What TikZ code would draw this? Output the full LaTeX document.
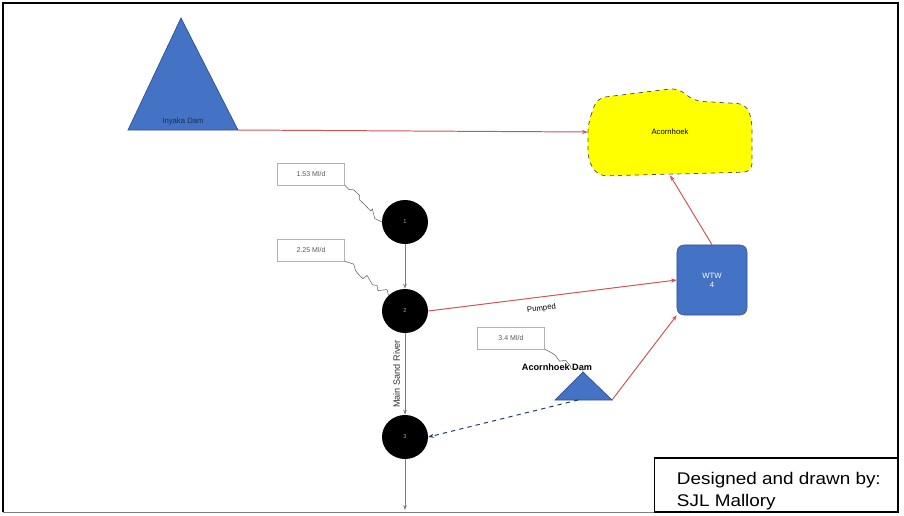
\documentclass[tikz,border=0pt]{standalone}
\usepackage{fontspec}
\setmainfont{Liberation Sans}
\usepackage{tikz}
\usepackage{xcolor}
\usetikzlibrary{arrows.meta}
\usetikzlibrary{decorations.pathmorphing, shapes.geometric}

\definecolor{damblue}{RGB}{68,114,196}
\definecolor{damedge}{RGB}{47,82,143}
\definecolor{pipered}{RGB}{205,85,85}
\definecolor{rivergray}{RGB}{125,125,125}
\definecolor{townyellow}{RGB}{255,255,0}

\begin{document}
\begin{tikzpicture}[x=0.025cm, y=-0.025cm,
    pipe/.style={-{Stealth[length=4pt]}, pipered, line width=0.7pt},
    river/.style={-{Stealth[length=3.5pt]}, rivergray, line width=0.6pt},
    weir/.style={ellipse, fill=black, minimum width=1.15cm, minimum height=1.1cm, inner sep=0pt, text=gray!70, font=\fontsize{4}{5}\selectfont},
    flowbox/.style={draw=gray!60, line width=0.4pt, minimum width=1.68cm, minimum height=0.55cm, font=\fontsize{5}{6}\selectfont, text=gray!70!black},
    squiggle/.style={gray!80!black, line width=0.4pt, decorate, decoration={random steps, segment length=4pt, amplitude=2.5pt}},
    small/.style={font=\fontsize{5.5}{6.5}\selectfont},
    credit/.style={anchor=west, font=\fontsize{12}{14}\selectfont}
]

    \useasboundingbox (0,0) rectangle (904,515);
    \draw[black, line width=1.2pt] (3,512) -- (3,3) -- (898,3) -- (898,512);
    \draw[gray, line width=0.6pt] (3,512) -- (898,512);

    % dams
    \coordinate (IA) at (181,18);
    \coordinate (IL) at (128,130);
    \coordinate (IR) at (238,130);
    \filldraw[fill=damblue, draw=damedge, line width=0.5pt] (IA) -- (IR) -- (IL) -- cycle;
    \node[small, text=damedge!60!black] (inyaka) at (183,121) {Inyaka Dam};

    \coordinate (AA) at (583,372);
    \coordinate (AL) at (555,400);
    \coordinate (AR) at (612,400);
    \coordinate (AB) at (578,400);
    \filldraw[fill=damblue, draw=damedge, line width=0.5pt] (AA) -- (AR) -- (AL) -- cycle;
    \node[font=\fontsize{6.5}{7.5}\selectfont\bfseries] (acdam) at (557,367) {Acornhoek Dam};

    % town
    \filldraw[fill=townyellow, draw=black!70, dashed, line width=0.5pt, rounded corners=6pt]
        (588,124) -- (597,98) -- (678,88) -- (694,101) -- (746,104) -- (752,120)
        -- (752,172) -- (598,176) -- (588,160) -- cycle;
    \node[minimum width=4.1cm, minimum height=2.15cm, inner sep=0pt, small] (acorn) at (670,132) {Acornhoek};

    % treatment works
    \node[draw=damedge, fill=damblue, rounded corners=5pt, minimum width=1.75cm, minimum height=1.75cm,
          align=center, text=white, small] (wtw) at (712,280) {WTW\\4};

    % river points
    \node[weir] (n1) at (405,222) {1};
    \node[weir] (n2) at (405,311) {2};
    \node[weir] (n3) at (405,437) {3};
    \coordinate (rivend) at (405,510);

    \draw[river] (n1) -- (n2);
    \draw[river] (n2) -- node[midway, rotate=90, anchor=south, font=\fontsize{6.5}{7.5}\selectfont, text=black!80] {Main Sand River} (n3);
    \draw[river] (n3) -- (rivend);

    % flows
    \node[flowbox] (q1) at (311,174) {1.53 Ml/d};
    \node[flowbox] (q2) at (311,250) {2.25 Ml/d};
    \node[flowbox] (q3) at (511,338) {3.4 Ml/d};
    \draw[squiggle] (q1.south east) -- (n1.west);
    \draw[squiggle] (q2.south east) -- (n2.north west);
    \draw[squiggle] (q3.south east) -- (AA);

    % pipelines
    \draw[pipe] (IR) -- (acorn.west);
    \draw[pipe] (wtw.north) -- (acorn.south);
    \draw[pipe] (n2.east) -- node[pos=0.45, below=2pt, sloped, small, text=black] {Pumped} (wtw.west);
    \draw[pipe] (AR) -- (wtw.south west);
    \draw[-{Stealth[length=4pt]}, dashed, damedge!70!black, line width=0.7pt] (AB) -- (n3.east);

    % credit
    \node[draw=black, line width=0.8pt, minimum width=6.08cm, minimum height=1.35cm] (credit) at (776.5,485) {};
    \node[credit] (cred1) at (672,480) {\scalebox{1.12}[1]{Designed and drawn by:}};
    \node[credit] (cred2) at (672,502) {\scalebox{1.12}[1]{SJL Mallory}};

\end{tikzpicture}
\end{document}
